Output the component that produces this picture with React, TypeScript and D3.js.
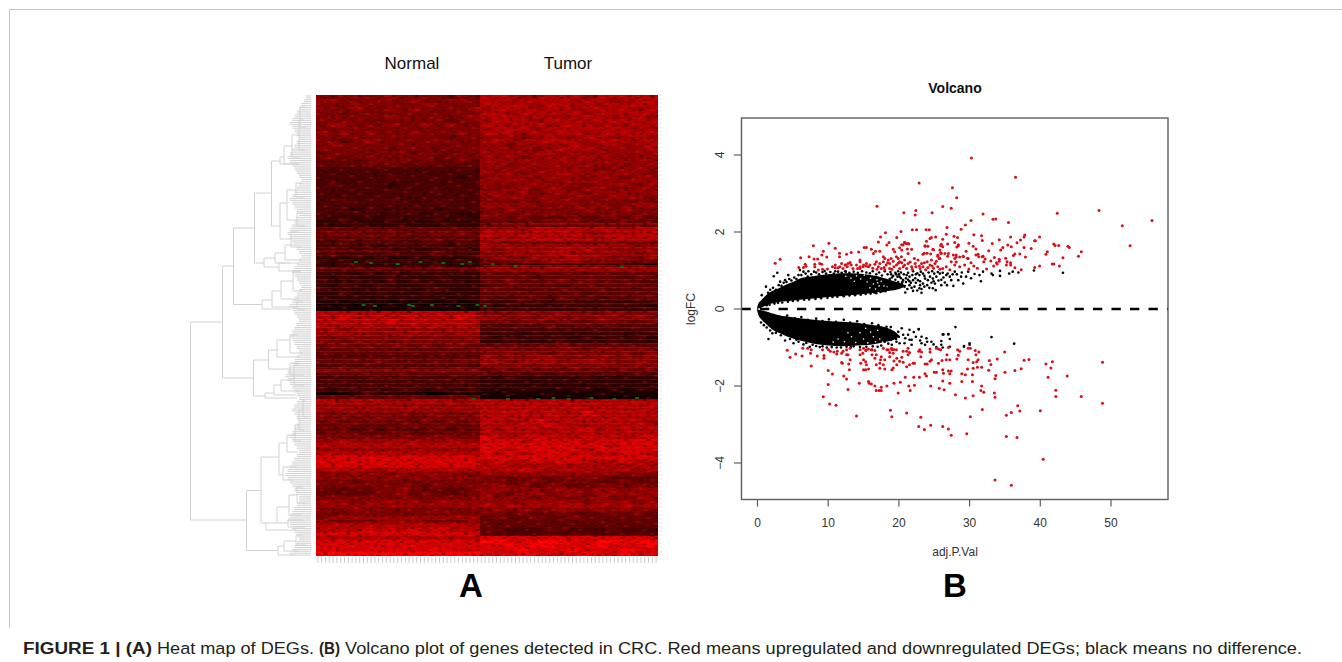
import React from "react";
import * as d3 from "d3";

// ---------- Heat map (A): each row = Normal columns | Tumor columns, levels 0 (black) .. 9 (red)
const heatRows: string[] = [
"55565565555455 77766777677777","66555655655565 77677776776677","55565555565555 77776777767777","65565565655556 67776776777767",
"55455555555555 77677777677777","56555565555556 77767667776676","55555455555455 67776777677777","56655565565655 77677677767677",
"55555555555555 67776777777767","65656555655565 77767677677777","55555555555455 66656766776676","55456555555555 67667777677767",
"56555555555555 66566667667667","55555545554555 66665677766667","45554555455455 66666766666666","55455545554555 66656666766566",
"44444555454454 66666676666666","44445454444444 66566666666566","33333333333333 65666666655666","33333333333333 66656676666665",
"33333343333323 56665666566566","33333333333333 66666566666666","34333323333333 65566665566656","33333333333333 55665665665566",
"33333333333333 66565566566656","33333333333333 56665656656665","33433343334333 55555665555555","33333333333333 66565556565566",
"33323323332333 55655555655655","33333233323322 55555555555555","32323232323232 55454445445454","22322232223222 44444555444544",
"22232223222322 44444444444444","44444444444444 66667777777677","45454454445454 77767777667777","44444444344444 76677777767777",
"33434343344343 66667676666666","33333233333233 66666666666656","33323323223332 65666676766566","34333343334333 55666676666656",
"33232322323223 56556667665556","32323323232232 44555666555544","22332222323222 34343344343332","33333333333333 66666666666666",
"32323232323232 44444444444444","22322232223222 44443444444344","32232232322322 44544454544443","22322322232222 34444434444444",
"32322232223222 44434344443434","22322322232222 44444444344444","22222222222222 43344344434344","22121212121212 33343343333333",
"21212121212121 32333233333332","11111111111111 33333333333333","77777777777777 55565565556555","77877777877787 65555655565565",
"77777787777777 45455454455445","76767676767676 33343434434343","66566656665666 33333333333333","66666566666566 33323332333233",
"55555555555555 32323232323232","55455545554555 22322232223222","45545455454554 44444454444444","44444444444444 55545555455555",
"44444444444444 55555455555545","44444444444444 65556655565556","44444544444454 66566656665565","33434343434343 55555555555555",
"44444444444444 45454545454545","44444444444444 43434343434343","33333434333333 22322222322222","33333333333333 22222222222222",
"33333333333333 22222222222222","32333233323323 21222122212122","11124222200222 11211211121111","44444444444444 11111111111111",
"77676766776767 77777777777777","66666666666666 77777777777777","66666666666666 77777777777777","55555555555555 77777777877777",
"55545555455555 77777777777777","55454545454545 77678777777776","44544444545444 77777877677777","44434344344344 76777677867777",
"45544445444544 77677777777777","55555555555555 87778777877778","66766676766766 88878888788888","77777777777777 88888888887888",
"66666666666666 88788888788888","77777777777777 87878887877887","88888888888888 88888888888888","88888888888888 78778788777877",
"88888888888888 77767776776677","77777677777777 77787677767767","56565656565655 66666666666565","65656565656565 55455455554444",
"55545555455555 55455454544544","55555555545555 56554554455455","44444556544445 66656566566566","44444556454445 65466566566666",
"55555555555555 65655655565566","66656666656666 66566666566656","66666666666666 76767677676767","55565555555555 56565566565655",
"54555554555555 55454454445454","56666666666666 45445445444444","66666666666666 44444444444444","77777777777777 44444444444444",
"77778787878777 44333443334333","88888888888888 43333434433343","77777777777777 88888888888888","88888888888888 99889998899899",
"88888888888888 88989988898889","88888888888888 88898889888988","99999999999999 88898888988988",
];
const sampleCount = 90;
// Thin streaks: [first sample, last sample, pixel row below top, level]
const streaks: [number, number, number, number][] = [
[0,43,173,7],[0,43,167,1],[0,20,155,6],[0,43,163,1],[0,43,209,0],[0,43,206,0],[0,43,212,0],[0,43,274,8],[0,20,298,0],[30,43,298,0],
[44,90,168,1],[44,90,170,8],[44,90,206,1],[44,90,210,1],[44,90,214,1],[44,90,238,1],[44,90,296,0],[44,90,300,0],[44,90,302,0],
[46,90,128,8],[46,90,144,8],[46,90,147,2],[0,43,120,2],[0,43,260,1],
[60,90,430,3],[60,85,437,3],[2,16,425,2],[28,40,425,2],
];
// [sample index, pixel row below heat-map top] of the few green cells
const greenCells: [number, number][] = [
[10,166],[14,167],[21,168],[27,166],[33,167],[40,166],[38,168],[12,209],[15,210],[24,209],[25,210],[30,209],[37,210],[42,209],[44,210],
[41,303],[50,303],[58,303],[62,302],[66,303],[72,302],[78,303],[84,302],[46,168],[52,170],[80,171],
];
// Fine speckle tile laid over the heat map: . none, a-c darker, l brighter
const speckleTile: string[] = [
".a..b.l..a.c..a...l.b..a..c.a..",
"..c.a...b..a.l..b.a...c...a.l.a",
"a...l.a..c...a.b...l.a..b....a.",
".b.a...a.l.b...a.c...a...l.b..a",
"l..a.c..a...a.l...a.b.a.c..a...",
".a...b.a.c.a..b..a...l...a..b.l",
"..b.l..a...l.a..c.a.b..a.b...a.",
"a.c..a..b.a...a...l..a.c..l.a..",
".a..a.l...b.c.a.b..a...a...b..c",
"l..b...a.a...l...a.c.b..l.a..a.",
"..a.c.a..l.a.b..a.l...a..c.b...",
"a...b..c..a...a..b..a..l.a..a.l",
".l.a..a..b.l.c..a...c.a..b..c..",
"..b..c.l...a..b.l.a...b.a...a.a",
"a.a...a.b.a.a...a..b.l..c.a.l..",
".c..l...c..b..l.c..a..a...b...b",
"..a.b.a...l...a....a.c.l.a.c.a.",
"b...a..a.b.a.c.a.b.....a...a...",
"..l..c..a...a...a..l.b..a.l.b.a",
"a..a...l.c..b.l..c...a.c..a...l",
".b...b..a..a...a..a.l.....b.a..",
"..a.c..a..l.c.b..b...a.b.a..c.a",
"l...a.b..a....a.l..a.c..l..a...",
".a.l...c.b.a.l...c..a...a.b..l.",
"..b..a..a..b...a...b..l..c..a.b",
"a..c..l...a..c.b.a..a..b...a...",
".a...a..b.l.a...a.l.c.a..l.b..c",
"..l.b.a...a...c..b...a..c...a..",
"c.a...c.a..b.l.a...a..l.a.b..a.",
".a.b.l..a.c...a..c.a.b...a.l...",
"..a...a..b..a.l.a..l...c...a.b.",
"b..l.c..a.a.b...b.a..a.a.c..a.l",
".a..a..l...c.a.a...c.b..l..b...",
"a.c.b...b.a...l..a...a...a...c.",
"..a...a.c..a.b..c.l.b.a.c.l.a..",
".l.b.a...l.c.a.a...a...a..b...a",
"a...c..b.a...b..l.c..b.l.a.c.b.",
];

// ---------- Dendrogram: [node height, top row, top child height, bottom row, bottom child height]
const merges: [number, number, number, number, number][] = [
[120.5,227,88.5,425,64.5],[88.5,171,77.5,283,57.5],[77.5,133,56.5,209.5,49],[56.5,98,39.5,168,47],[39.5,66,31,131,31],
[31,62,27,69,12],[27,51,19,69,12],[19,40,12,62,11],[12,25,7,55,6],[11,12,6,32,5],[31,108,24,144,20],[24,95,15,125,14],
[15,88,9,102,7],[14,118,8,131,6],[20,136,12,152,9],[47,163,36,172,32],[36,158,26,168,12],[26,150,16,165,9],[32,168,22,176,10],
[49,205,39,214,20],[39,196,30,212,14],[30,186,18,204,12],[18,176,10,196,9],[14,206,8,214,6],[57.5,265,42.5,301,46],
[42.5,255,34,274,21],[34,245,21,262,12],[21,240,13,258,8],[21,268,12,280,7],[46,298,37,303,14],[37,290,30,300,15],[30,285,17,296,11],
[17,270,12,290,7],[64.5,395.5,50,455.5,33],[50,362,32,428,45],[32,348,24,380,28],[24,340,16,357,13],[28,372,14,385,18],
[16,330,12,346,10],[12,315,8,335,7],[8,305,5,322,4],[45,428,34,435,15],[34,412,22,428,23],[23,425,8,432,6],[22,400,14,420,10],
[14,392,8,408,6],[33,451,27,460,16],[27,446,15,456,12],[15,440,8,450,5],
];
// Stem height of each dendrogram leaf, in steps, top to bottom
const leafSteps: string =
"0011223344556677665544334455667788776655443322334455667766554433445566778877665544332233445566554433"+
"2233445566776655443344556677665544333445566778899887766554433445566554433445566776655443344556677889"+
"9887766554433334455667788776655443344556677";

// ---------- Volcano plot (B): [adj.P.Val, logFC]
const redUp: [number, number][] = [
[30.25,3.92],[36.5,3.42],[22.86,3.27],[27.57,3.15],[28.18,2.89],[26.2,2.66],[27.4,2.62],[20.7,2.5],[22.4,2.56],[22.3,2.44],[24.7,2.5],[31.9,2.47],[42.4,2.49],[48.3,2.56],[55.8,2.3],[51.6,2.16],[52.7,1.64],[30.2,2.3],[33.3,2.33],[33.7,2.34],[35.5,2.25],[29.4,2.18],[26.8,2.12],[28.8,2.07],[20.3,2.01],[21.9,2.06],[22.5,2.06],[23.85,2.06],[24.3,2.06],[26.7,1.94],[25.2,1.87],[24.4,1.83],[23.9,1.76],[27.8,1.89],[28.3,1.86],[27.9,1.73],[30.6,1.93],[31.7,1.9],[31.8,1.78],[34.2,1.8],[35.8,1.87],[37.8,1.92],[37.7,1.87],[37.2,1.79],[36.7,1.72],[39.9,1.87],[39.2,1.77],[39.3,1.77],[33.2,1.7],[34.7,1.6],[35.4,1.66],[35.9,1.62],[34.4,1.53],[32.7,1.51],[30.9,1.56],[29.9,1.71],[30.5,1.63],[29.5,1.5],[26,1.68],[25.9,1.65],[26.2,1.62],[26.9,1.69],[28.4,1.67],[28.2,1.61],[20.8,1.73],[21,1.7],[21.4,1.69],[20.4,1.67],[21.2,1.56],[20.4,1.53],[23.7,1.63],[24.1,1.63],[24.9,1.54],[23.6,1.45],[24,1.45],[24.5,1.43],[25.9,1.46],[25.5,1.37],[25.7,1.31],[26.5,1.44],[27,1.44],[26.9,1.37],[28.1,1.4],[28.1,1.35],[28.6,1.35],[29.1,1.37],[29.7,1.32],[30.9,1.4],[31.2,1.42],[31.3,1.36],[31.8,1.36],[31.9,1.37],[32.2,1.3],[32,1.23],[33.5,1.34],[34.2,1.29],[34.2,1.24],[33.8,1.2],[33.9,1.17],[33.4,1.12],[35.1,1.32],[35.3,1.23],[35.8,1.2],[35.2,1.14],[35.8,1.14],[36.2,1.39],[36.4,1.43],[37.1,1.43],[37.9,1.35],[37.7,1.6],[38.7,1.57],[36.4,1.07],[37.3,1.02],[39.2,1.08],[39.9,1.12],[41,1.49],[40.8,1.42],[41.9,1.69],[42.1,1.65],[42.6,1.65],[43.9,1.63],[44.1,1.6],[45.8,1.49],[45.4,1.37],[43.2,1.33],[41.7,1.17],[41.9,1.17],[42.7,1.12],
[2.5,1.19],[3.2,1.29],[6.1,1.33],[7.3,1.36],[7.9,1.64],[10.1,1.71],[11,1.58],[9.3,1.5],[9.1,1.4],[9.8,1.35],[8,1.3],[8.5,1.3],[11.6,1.45],[11.6,1.36],[12.6,1.42],[13.25,1.47],[14.3,1.48],[15.1,1.6],[15.4,1.6],[14.5,1.27],[14.5,1.23],[5.85,1.08],[6.5,1.08],[6.75,1.16],[6.85,1.11],[8.1,1.16],[8.1,1.1],[8.8,1.18],[9.1,1.16],[8.6,1.01],[9.2,1.03],[9.9,1.04],[10.6,1.1],[11,1.07],[11.4,1.07],[11,1.14],[11.65,1.1],[12.1,1.05],[12.45,1.14],[12.7,1.1],[13.1,1.21],[13.25,1.14],[12.8,1.18],[14,1.14],[14.15,1.05],[14.5,1.05],[14.95,1.1],[15.4,1.12],[15.7,1.1],
[16.9,2.67],[18.1,1.98],[17.4,1.87],[17.1,1.74],[19.7,1.86],[18.6,1.73],[18.3,1.66],[20.8,1.73],[21.3,1.7],[20.6,1.66],[20.1,1.59],[19.2,1.55],[19.4,1.49],[21.8,1.55],[21.3,1.44],[17.3,1.5],[16.7,1.5],[16.4,1.44],[16.1,1.55],[24.6,1.86],[23.7,1.64],[24.8,1.55],[23.4,1.42],[26.2,1.81],[28.4,1.64],[25.8,1.53],[26,1.44],[25.5,1.4],[25.8,1.31],[27.7,1.4],[27.9,1.31],[27.4,1.23],[29.1,1.36],[29.8,1.31],
[17.8,1.36],[18,1.31],[18.5,1.27],[18.9,1.31],[19.2,1.24],[19.65,1.36],[19.9,1.31],[20.1,1.23],[20.35,1.36],[20.8,1.27],[18.7,1.18],[18.2,1.14],[17.8,1.23],[17.3,1.18],[16.8,1.23],[17.1,1.1],[17.5,1.05],[18.7,1.05],[19.65,1.14],[20.1,1.05],[20.6,1.1],[21.1,1.05],[21.8,1.1],[21.3,1.18],[22.2,1.31],[22.7,1.27],[23.2,1.18],[23.4,1.1],[24,1.23],[24.4,1.14],[24.6,1.27],[25.1,1.18],[23,1.05],[22.4,1.1],[25.5,1.1],[26.2,1.05],[26.7,1.1],[27.9,1.14],[28.6,1.1],[29.3,1.14],[15,1.14],[15.4,1.18],[15.9,1.14],[14.5,1.1],[13.5,1.05],[12.4,1.14],[11.9,1.18],[20.4,1.2],[20.8,1.14],[21.6,1.22],[22.9,1.12],[23.6,1.2],[24.1,1.08],[24.9,1.06],[25.3,1.24],[19.3,1.1],[18.4,1.2],[16.3,1.06],[16.6,1.16],[27.2,1.02],[28.1,1.22],[29.9,1.04],[30.6,1.12],[30.2,1.2],[31.1,1.06],[32.4,1.04],[33,1.25],
[21.9,1.03],[22.3,1.18],[23.8,1.02],[24.7,1.12],[25.8,1.03],[19,1.03],[19.9,1.19],[17.9,1.08],[16.9,1.03],[18,1.02],
];
const redDown: [number, number][] = [
[4.2,-1.07],[4.6,-1.25],[5.4,-1.17],[6.3,-1.22],[6.4,-1.02],[7.1,-1.02],[7.6,-1.06],[7.5,-1.15],[8.45,-1.22],[7.6,-1.48],[9.2,-1.06],[9.4,-1.21],[9.4,-1.28],[10,-1.05],[10.3,-1.1],[10.8,-1.12],[11.3,-1.1],[11.2,-1.17],[10,-1.6],[10.6,-1.69],[10,-1.96],[9.3,-2.28],[10.2,-2.47],[11.1,-2.5],[12.2,-1.74],[12.6,-1.82],[12.8,-2.09],[14,-2.78],[11.9,-1.39],[12,-1.41],[12.8,-1.19],[13.1,-1.32],[12.9,-1.43],[13,-1.58],[12.1,-1.1],[13.1,-1.02],[12.6,-1.06],[14.5,-1.19],[14.9,-1.15],[15.3,-1.08],[15.7,-1.04],[14.4,-1.93],[15,-1.32],[14.6,-1.41],[15.3,-1.37],[15.4,-1.45],[15,-1.58],[15.3,-1.58],[15.7,-1.56],[15.7,-1.88],[15.8,-1.93],[16.1,-1.95],[16.6,-2],[16.8,-2.12],[17.2,-2.12],[17.5,-2.03],[17.5,-2.12],[18.3,-2],[16.2,-1.06],[16.6,-1.08],[16.2,-1.19],[16.8,-1.19],[16.6,-1.28],[16.8,-1.45],[17.3,-1.54],[18,-1.56],[19,-1.58],[17.5,-1.24],[17.4,-1.32],[18,-1.32],[17.3,-1.41],[17.8,-1.45],[19,-1.06],[19.3,-1.05],[18.3,-1.06],[18.7,-1.13],[19.2,-1.15],[18.7,-1.24],[19.7,-1.28],[19.3,-1.35],[19.7,-1.45],[19.2,-1.53],[19.3,-1.93],[20.2,-1.9],[19.9,-2.18],[18.8,-2.63],[19,-2.8],[21.1,-2.7],[20.9,-1.77],[20.1,-1.36],[20.6,-1.38],[20.4,-1.25],[21.1,-1.1],[21.5,-1.13],[21.3,-1.19],[21.1,-1.5],[21.5,-1.45],[22,-1.41],[22.2,-1.41],[22.1,-1.77],[22.9,-1.77],[22.2,-1.98],[21.4,-2],[21.6,-2.12],[23.1,-2.81],[22.8,-3.05],[23.6,-3.13],[24.5,-3.02],[24.5,-2],[22.8,-1.1],[23.2,-1.12],[23.1,-1.24],[23.7,-1.43],[24,-1.43],[24.4,-1.36],[24.6,-1.32],[23.7,-1.68],[23.9,-1.74],[24.4,-1.04],[25.6,-1.04],[25.9,-1.06],[25,-1.64],[25.3,-1.64],[25.6,-1.41],[26.1,-1.34],[26.8,-1.19],[26.7,-1.32],[27.2,-1.32],[26.2,-1.58],[26.3,-1.67],[27,-1.61],[27.2,-1.68],[27.4,-1.61],[26.2,-1.87],[26.4,-2.1],[25.7,-2.06],[27.2,-1.93],[28,-2.23],[26.2,-3.05],[27,-3.12],[27.4,-3.28],[28.3,-1.06],[28.6,-1.1],[28.2,-1.3],[28.9,-1.68],[29.4,-1.71],[28.9,-1.88],[29.4,-2.31],[29.6,-3.24],[30.1,-2.8],[31.8,-2.61],[30.1,-1.02],[30.8,-1.08],[31.3,-1.12],[30.9,-1.19],[31.2,-1.32],[30.5,-1.39],[31,-1.37],[29.8,-1.32],[29.7,-1.56],[30.4,-1.71],[30.5,-1.54],[31.1,-1.51],[31.7,-1.51],[30.4,-1.88],[31.7,-2],[31.6,-2.12],[32,-2.16],[30.5,-2.25],
[34.96,-1.12],[32.8,-1.34],[33.9,-1.3],[33,-1.44],[32.7,-1.59],[37.7,-1.33],[38.4,-1.31],[40.8,-1.43],[41.7,-1.37],[41.5,-1.53],[48.8,-1.38],[37.3,-1.55],[36.4,-1.6],[35,-1.64],[33.7,-1.73],[33.6,-1.81],[41.1,-1.77],[43.8,-1.74],[33.5,-2.18],[33.6,-2.29],[42.2,-2.11],[42.2,-2.27],[45.8,-2.27],[48.8,-2.45],[36.8,-2.51],[37.1,-2.65],[35.9,-2.69],[35.2,-2.76],[40,-2.64],[35.2,-3.31],[36.7,-3.34],[40.4,-3.9],[33.6,-4.44],[35.9,-4.58],
[11.9,-1.15],[12.6,-1.19],[14.5,-1.06],[15,-1.02],[15.4,-1.06],[16.1,-1.06],[17.8,-1.02],[18.5,-1.06],[18.95,-1.02],[19.65,-1.06],[20.6,-1.1],[21.3,-1.02],[22.95,-1.06],[24.4,-1.12],[25.3,-1.02],[27,-1],[28.4,-1.2],[29.8,-1.02],
];
const blackUp: [number, number][] = [
[20.1,.84],[20.6,.75],[21.1,.88],[20.4,.66],[20.8,.58],[21.5,.84],[22,.75],[21.5,.62],[22.2,.58],[22,.47],[23.2,.42],[20.9,.43],[22.7,.75],[22.9,.88],[23.4,.92],[23.7,.79],[23.4,.66],[22.9,.54],[24.1,.75],[24.4,.84],[24.8,.79],[25.1,.66],[24.8,.54],[25.2,.49],[25.3,.84],[25.8,.92],[26.2,.94],[26.7,.88],[26.5,.69],[27.2,.84],[27.4,.75],[27.7,.6],[26.9,.92],[27.9,.97],[28.4,.75],[29.1,.66],[28.8,.84],[29.5,.84],[29.8,.97],[30.7,.91],[31.6,.72],[31.4,.88],[31.9,.97],[33.1,.92],[33.3,.88],[34.3,.99],[34.3,.86],[35.6,.92],[36.1,.97],[36.9,.95],[39.1,1.0],[43.2,.94],
[2.3,.85],[2.8,.94],[1.2,.58],[.6,.36],[4.35,.88],[3.9,.75],[3.2,.71],[5.8,.88],[6.5,.97],[6,1.01],[7.2,.98],[8,.97],[9.5,.99],[11,.98],[12.5,.97],
[16.3,.98],[16.8,.9],[17.2,.95],[17.6,.87],[18,.98],[18.4,.9],[18.8,.96],[19.2,.86],[19.5,.94],[19.9,.98],[20.3,.95],[16.5,.43],[16.9,.47],[17.3,.52],[17.7,.46],[18.1,.55],[18.5,.5],[18.9,.58],[19.3,.52],[19.7,.62],[20,.55],[18.3,.7],[18.7,.78],[19.1,.68],[19.5,.76],[19.9,.7],[20.3,.8],[17.9,.66],[18.2,.62],[18.6,.66],[19,.82],[19.4,.62],[19.8,.84],[20.5,.7],[21,.7],[21.3,.76],[21.7,.68],[21.9,.88],[22.4,.68],[22.4,.9],[23,.62],[23,.72],[23.6,.58],[24,.62],[24.3,.55],[24.6,.68],[25,.92],[25.6,.74],[26,.62],[26.3,.82],[21.2,.52],[21.8,.55],[22.6,.48],
[1.5,.42],[1.8,.5],[2.2,.55],[2.6,.5],[3,.62],[3.4,.6],[3.7,.68],[4.1,.7],[4.5,.78],[4.8,.74],[5.2,.82],[5.5,.78],[6.2,.88],[6.8,.92],[7.1,.84],[7.6,.9],[8.3,.95],[8.7,.9],[9.2,.96],[9.7,.92],[10.3,.96],[10.8,.92],[11.4,.97],[11.9,.94],[12.4,.98],[13,.94],[13.6,.97],[14.2,.94],[14.8,.98],[15.4,.95],[15.9,.93],
[1.3,.1],[1.7,.11],[2.4,.14],[2.9,.16],[3.5,.17],[4.3,.19],[5,.21],[5.7,.22],[6.6,.24],[7.3,.25],[8.2,.26],[9,.28],[9.9,.29],[10.6,.31],[11.3,.32],[12.2,.33],[13,.35],[13.8,.36],[14.6,.37],[15.3,.39],[16,.4],[16.8,.41],[17.4,.44],[18.1,.46],
[20.7,.9],[21.3,.94],[22,.98],[22.6,.93],[23.1,.97],[24.2,.95],[24.7,.98],[25.5,.96],[20.2,.6],[21.5,.72],[22.3,.8],[23.6,.86],[24.9,.72],[26,.76],[26.8,.62],[27.6,.9],[28.2,.9],[28.9,.95],[30.2,.8],[19.6,.9],[18.9,.9],[20,.9],[21,.8],[23.2,.52],
];
const blackDown: [number, number][] = [
[18.85,-.47],[18.25,-.46],[18.25,-.59],[19.4,-.67],[19.9,-.59],[20.4,-.5],[21.5,-.54],[22.8,-.52],[20.6,-.67],[21.3,-.67],[21.5,-.8],[19.65,-.85],[20.1,-.89],[20.8,-.89],[21.8,-.8],[22.4,-.72],[23.2,-.72],[23.9,-.76],[24,-.85],[23.2,-.89],[24.6,-.85],[23.7,-.93],[26,-.83],[26.3,-.66],[27,-.66],[27.2,-.78],[28,-.47],[27.2,-.98],[26,-.93],[29.2,-.96],[30,-.89],[25.3,-.99],[26.2,-1],[21.8,-.93],[22.8,-.53],[26.2,-.66],[27,-.65],[33.1,-.73],[30,-.93],[29.2,-.98],[36.3,-.9],
[1.55,-.78],[.5,-.35],[3.9,-.82],[2.1,-.63],[5.1,-.89],[5.8,-.85],[6.5,-.92],[7.4,-.98],[8.8,-.99],[9.8,-1],[11.2,-1.0],[13.2,-.99],
[18.6,-.7],[18.2,-.74],[18.9,-.8],[19.2,-.75],[19.6,-.78],[18,-.85],[18.5,-.9],[19,-.93],[17.5,-.95],[17,-.98],[16.3,-.97],[15.4,-.98],[14.5,-.99],[20,-.72],[20.9,-.76],[22.1,-.6],[23,-.82],[24.9,-.92],[18.9,-.6],[17.6,-.7],[17.9,-.63],
[1.4,-.14],[2.3,-.16],[3.1,-.2],[4.2,-.17],[5.3,-.24],[6.2,-.21],[7.1,-.28],[8.3,-.25],[9.2,-.31],[10.1,-.27],[11.1,-.33],[12.2,-.28],[13.1,-.35],[14.1,-.32],[15.1,-.39],[16.2,-.37],[17.1,-.42],[.9,-.42],[1.3,-.48],[1.8,-.56],[2.6,-.62],[3.3,-.68],[4.6,-.78],[5.5,-.8],[6.9,-.88],[7.8,-.93],[8.3,-.96],[9.2,-.97],[10.5,-.99],[11.8,-1],[12.6,-.98],[13.6,-.97],
];
// White gaps inside the dense part of the cloud
const cloudGaps: [number, number][] = [
[12.5,.85],[13.2,.8],[14,.86],[14.6,.78],[15.1,.88],[15.5,.7],[16,.8],[16.4,.65],[16.9,.76],[17.2,.6],[17.5,.72],[13.7,.72],[15.9,.55],[16.7,.52],[17.9,.6],[17,.68],[18.3,.58],
[12.3,-.85],[13.3,-.72],[13.9,-.87],[14.5,-.62],[15,-.78],[15.6,-.88],[16,-.6],[16.4,-.72],[17,-.55],[17.3,-.78],[17.7,-.86],[12.8,-.62],[11.4,-.78],[10.7,-.86],[15.3,-.5],[16.7,-.85],
];
// Solid part of the black cloud: [adj.P.Val, inner logFC, outer logFC]
const upperCloud: [number, number, number][] = [
[-.1,0,0],[.1,.01,.13],[.5,.03,.22],[1,.08,.32],[2,.14,.46],[3,.18,.54],[4,.2,.63],[5,.22,.7],[6,.24,.79],[8,.27,.86],[10,.31,.9],[12,.34,.93],[14,.37,.92],[16,.41,.88],[18,.46,.8],[20,.52,.68],[21,.6,.62],
];
const lowerCloud: [number, number, number][] = [
[-.1,0,0],[.1,-.01,-.14],[.5,-.03,-.26],[1,-.05,-.35],[2,-.11,-.52],[3,-.16,-.62],[4,-.19,-.7],[6,-.24,-.82],[8,-.28,-.9],[10,-.31,-.95],[12,-.33,-.97],[14,-.36,-.95],[16,-.41,-.93],[18,-.47,-.86],[19.5,-.6,-.78],[20,-.68,-.72],
];
const xTicks = [0, 10, 20, 30, 40, 50];
const yTicks = [-4, -2, 0, 2, 4];
const sans = "'Liberation Sans', Arial, sans-serif";

// Panel geometry
const heat = { l: 316, r: 658, t: 95, b: 556, split: 480 };
const box = { l: 741.5, r: 1168, t: 118, b: 499.5 };
const speckleColor: Record<string, [string, number]> = {
  a: ["#000", .14], b: ["#000", .26], c: ["#000", .4], l: ["#ff2020", .2],
};

export default function App() {
  const x = d3.scaleLinear().domain([0, 50]).range([757.5, 1111]);
  const y = d3.scaleLinear().domain([-4, 4]).range([463, 155]);
  const red = d3.scaleLinear<string>().domain([0, 7, 9]).range(["#000000", "#b80000", "#ff0000"]);
  const rowY = d3.scaleBand<number>().domain(heatRows.map((_, i) => i)).range([heat.t, heat.b]);
  const normalX = d3.scaleLinear().domain([0, 14]).range([heat.l, heat.split]);
  const tumorX = d3.scaleLinear().domain([0, 14]).range([heat.split, heat.r]);
  const sampleX = d3.scaleLinear().domain([0, sampleCount]).range([heat.l, heat.r]);
  const dX = d3.scaleLinear().domain([0, 121]).range([311, 190]);
  const dY = d3.scaleLinear().domain([0, 461]).range([heat.t, heat.b]);
  const cloud = d3.area<[number, number, number]>()
    .x(d => x(d[0])).y0(d => y(d[1])).y1(d => y(d[2])).curve(d3.curveMonotoneX);
  const zeroLine = d3.line()([[box.l, y(0)], [box.r, y(0)]]) as string;
  const sampleW = sampleX(1) - sampleX(0);
  const cells = (offset: number, sx: d3.ScaleLinear<number, number>) =>
    heatRows.map((row, i) => {
      const n = row.split(" ")[offset].split("");
      const bleed = 14; // outer cells run past the clip so the blur keeps full colour at the edges
      const top = i === 0 ? bleed : 0;
      const bot = i === heatRows.length - 1 ? bleed : 0;
      return n.map((c, j) => {
        const left = j === 0 ? bleed : 0;
        const right = j === n.length - 1 ? bleed : 0;
        return (
          <rect key={`${i}-${j}`} x={sx(j) - .5 - left} y={rowY(i)! - .2 - top}
            width={sx(1) - sx(0) + 1 + left + right} height={rowY.bandwidth() + .4 + top + bot} fill={red(+c)} />
        );
      });
    });
  const leaves = leafSteps.split("");
  const samples = d3.range(sampleCount);
  const dots = (pts: [number, number][], fill: string, r: number) =>
    pts.map((p, i) => <circle key={i} cx={x(p[0])} cy={y(p[1])} r={r} fill={fill} />);
  const sans14 = { fontSize: 17.2, fill: "#231f20", lengthAdjust: "spacingAndGlyphs" as const };

  return (
    <svg width={1342} height={662} viewBox="0 0 1342 662" style={{ position: "absolute", left: 0, top: 0, display: "block", background: "#fff" }} fontFamily={sans}>
      <defs>
        <filter id="soft" x="-8%" y="-3%" width="116%" height="106%"><feGaussianBlur stdDeviation="2.2 0.6" /></filter>
        <clipPath id="cn"><rect x={heat.l} y={heat.t} width={heat.split - heat.l} height={heat.b - heat.t} /></clipPath>
        <clipPath id="ct"><rect x={heat.split} y={heat.t} width={heat.r - heat.split} height={heat.b - heat.t} /></clipPath>
        <pattern id="speckle" patternUnits="userSpaceOnUse" x={heat.l} y={heat.t} width={31 * sampleW} height={37 * 2}>
          {speckleTile.map((row, i) => row.split("").map((c, j) => c === "." ? null : (
            <rect key={`${i}-${j}`} x={j * sampleW} y={i * 2} width={sampleW} height={2}
              fill={speckleColor[c][0]} fillOpacity={speckleColor[c][1]} />
          )))}
        </pattern>
      </defs>
      {/* frame */}
      <path d="M1342 9.5H9.5V628" fill="none" stroke="#c4c4c4" strokeWidth={1} />

      {/* dendrogram */}
      <g stroke="#d2d2d2" strokeWidth={1} fill="none">
        {leaves.map((c, i) => {
          const py = heat.t + (i + .5) * (heat.b - heat.t) / leaves.length;
          return <line key={i} x1={dX(5 + +c * 2.3)} x2={dX(0)} y1={py} y2={py} />;
        })}
        {merges.map((m, i) => (
          <path key={i} d={`M${dX(m[2])} ${dY(m[1])}H${dX(m[0])}V${dY(m[3])}H${dX(m[4])}`} />
        ))}
      </g>

      {/* heat map */}
      <g clipPath="url(#cn)"><g filter="url(#soft)">{cells(0, normalX)}</g></g>
      <g clipPath="url(#ct)"><g filter="url(#soft)">{cells(1, tumorX)}</g></g>
      {streaks.map((s, i) => (
        <rect key={i} x={sampleX(s[0])} y={dY(s[2])} width={sampleX(s[1]) - sampleX(s[0])} height={1.6} fill={red(s[3])} fillOpacity={.5} />
      ))}
      <rect x={heat.l} y={heat.t} width={heat.r - heat.l} height={heat.b - heat.t} fill="url(#speckle)" />
      {greenCells.map((g, i) => (
        <rect key={i} x={sampleX(g[0])} y={dY(g[1])} width={sampleW} height={2} fill="#0b6b12" />
      ))}
      {/* sample and row labels, too small to read */}
      <g stroke="#cccccc" strokeWidth={1}>
        {samples.map(s => <line key={s} x1={sampleX(s + .5)} x2={sampleX(s + .5)} y1={heat.b + 1} y2={heat.b + 7} />)}
      </g>
      <g stroke="#e6e6e6" strokeWidth={1}>
        {d3.range(0, 115).map(i => <line key={i} x1={heat.r + 1} x2={heat.r + 4} y1={dY(i * 4)} y2={dY(i * 4)} />)}
      </g>
      <text x={412} y={69} textAnchor="middle" fontSize={17} fill="#111">Normal</text>
      <text x={568} y={69} textAnchor="middle" fontSize={17} fill="#111">Tumor</text>
      <text x={471} y={597} textAnchor="middle" fontSize={33} fontWeight="bold" fill="#000">A</text>
      <text x={955} y={597} textAnchor="middle" fontSize={33} fontWeight="bold" fill="#000">B</text>

      {/* volcano */}
      <text x={955} y={93} textAnchor="middle" fontSize={14} fontWeight="bold" fill="#111">Volcano</text>
      <path d={cloud(upperCloud) as string} fill="#000" />
      <path d={cloud(lowerCloud) as string} fill="#000" />
      {dots(cloudGaps, "#fff", .8)}
      {dots(blackUp, "#000", 1.3)}
      {dots(blackDown, "#000", 1.3)}
      {dots(redUp, "#d80f18", 1.5)}
      {dots(redDown, "#d80f18", 1.5)}
      <path d={zeroLine} fill="none" stroke="#000" strokeWidth={2.4} strokeDasharray="9.3 9.2" />
      <rect x={box.l} y={box.t} width={box.r - box.l} height={box.b - box.t} fill="none" stroke="#5f5f5f" strokeWidth={1.4} />
      <g stroke="#5f5f5f" strokeWidth={1.2}>
        {xTicks.map(t => <line key={t} x1={x(t)} x2={x(t)} y1={box.b} y2={box.b + 7} />)}
        {yTicks.map(t => <line key={t} x1={box.l - 7.5} x2={box.l} y1={y(t)} y2={y(t)} />)}
      </g>
      <g fontSize={12} fill="#333" textAnchor="middle">
        {xTicks.map(t => <text key={t} x={x(t)} y={527}>{t}</text>)}
        {yTicks.map(t => (
          <text key={t} transform={`translate(724,${y(t)}) rotate(-90)`}>{t < 0 ? `\u2212${-t}` : t}</text>
        ))}
        <text transform="translate(695,309) rotate(-90)">logFC</text>
        <text x={955} y={556}>adj.P.Val</text>
      </g>

      {/* caption */}
      <text x={23} y={654} {...sans14} fontWeight="bold" textLength={129}>FIGURE 1 | (A)</text>
      <text x={157} y={654} {...sans14} textLength={157}>Heat map of DEGs.</text>
      <text x={319} y={654} {...sans14} fontWeight="bold" textLength={21}>(B)</text>
      <text x={345} y={654} {...sans14} textLength={957}>Volcano plot of genes detected in CRC. Red means upregulated and downregulated DEGs; black means no difference.</text>
    </svg>
  );
}
